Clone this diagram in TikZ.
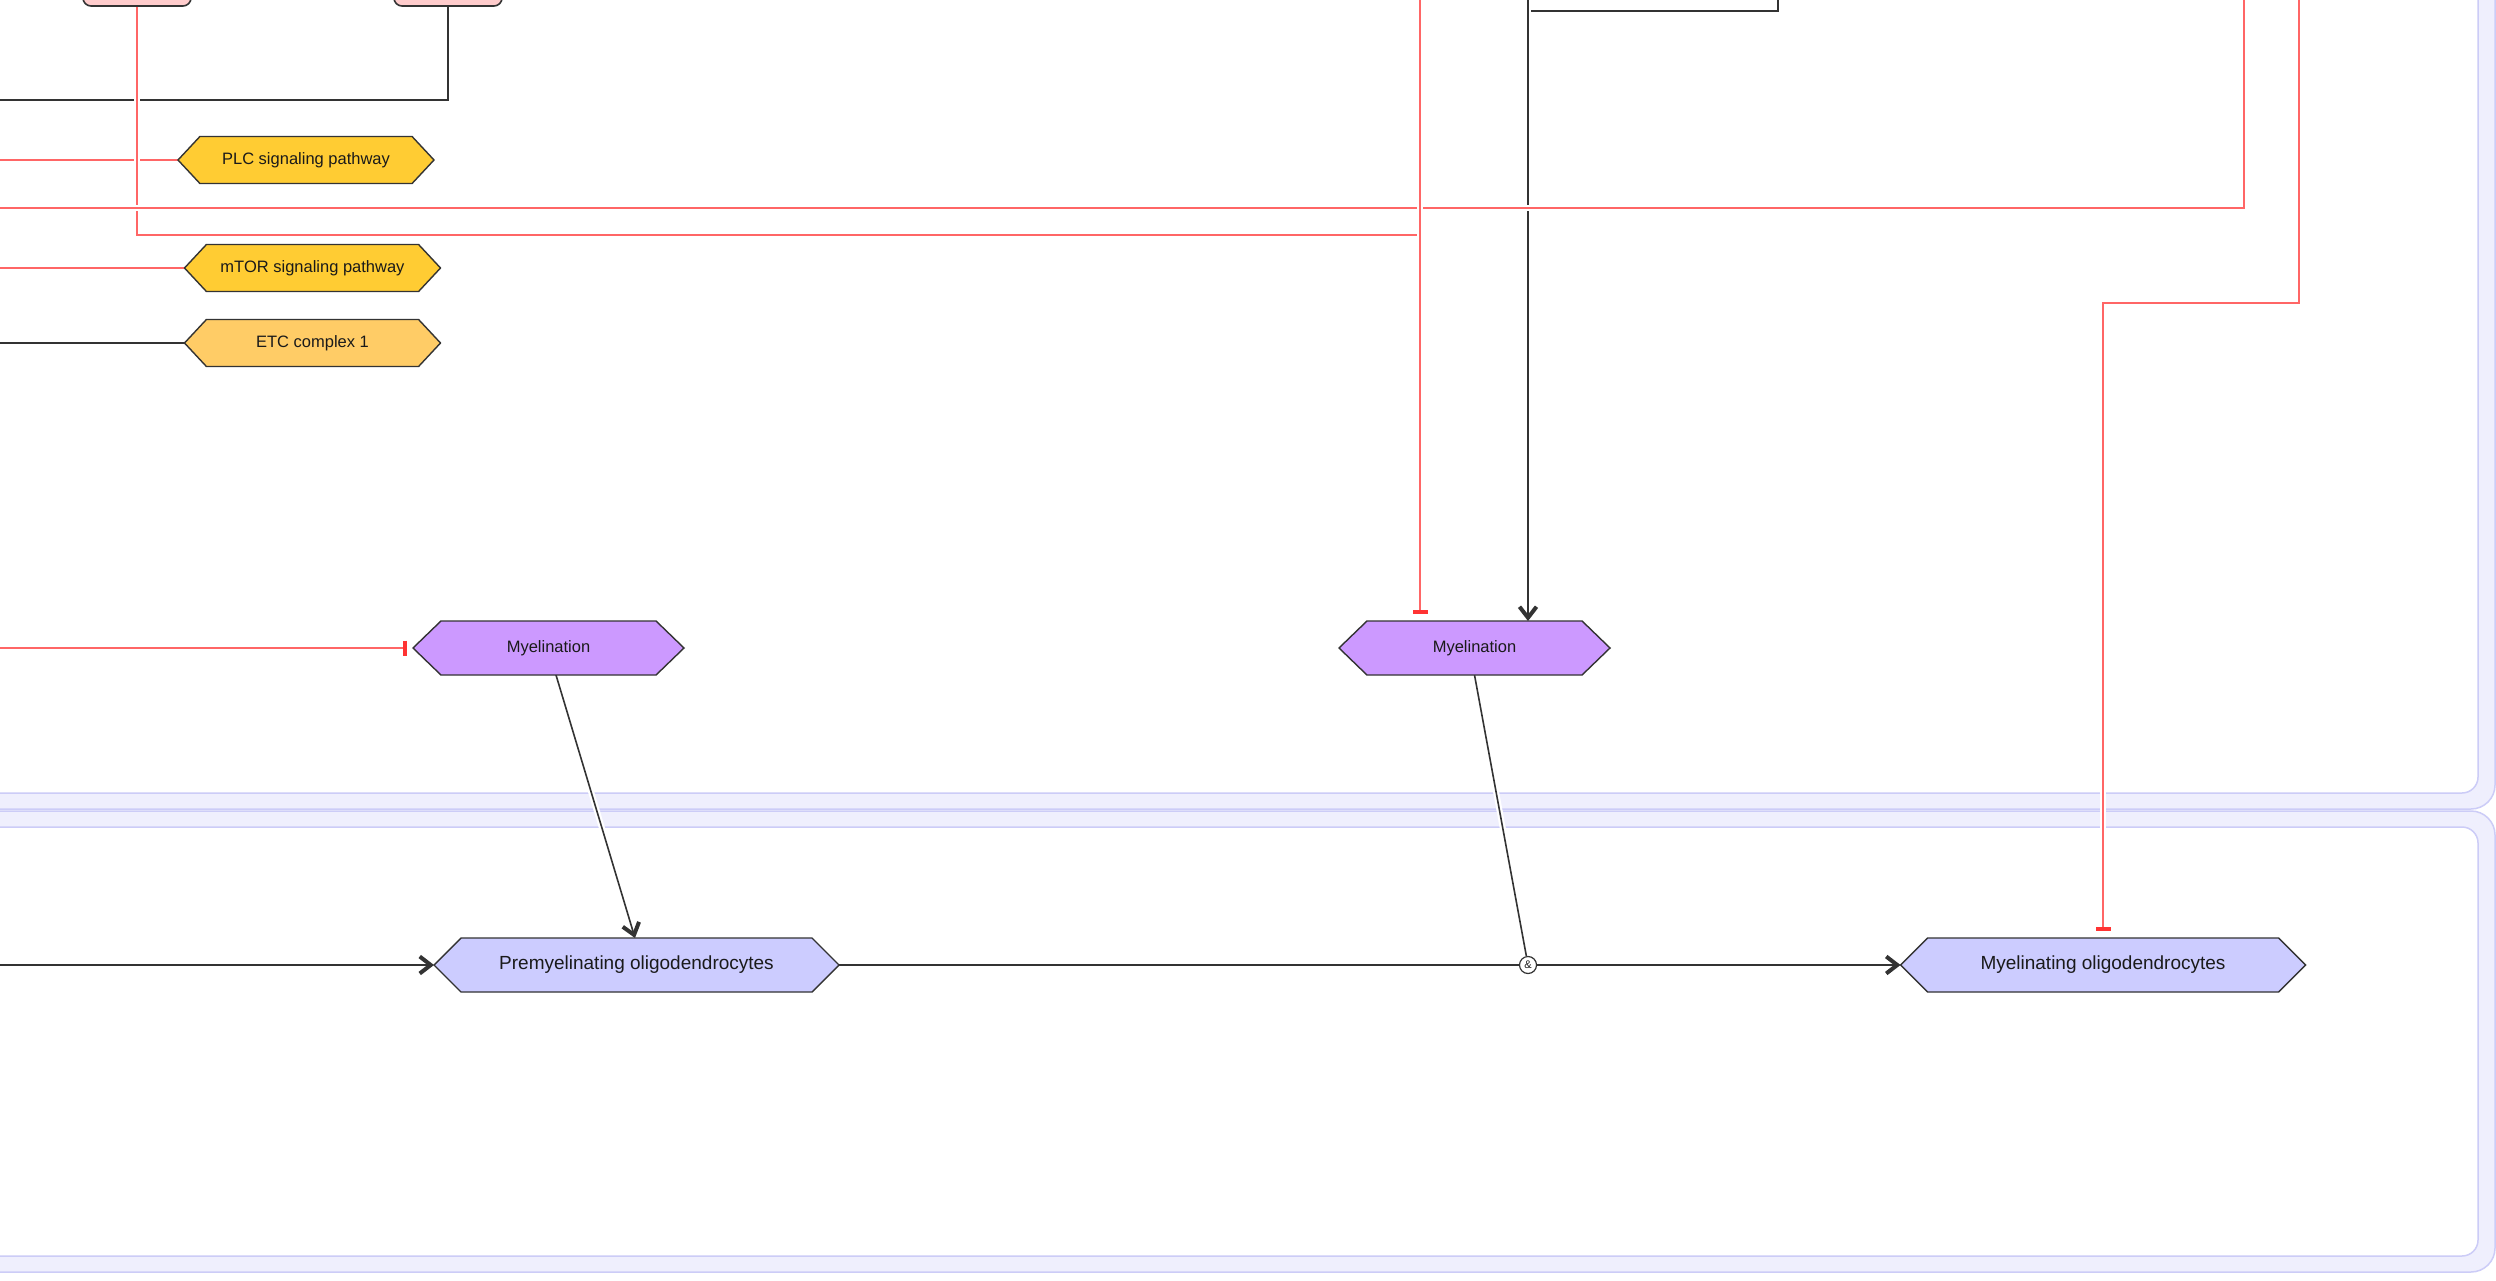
\documentclass[tikz,border=0pt]{standalone}
\usepackage{fontspec}
\setmainfont{Liberation Sans}
\usepackage{tikz}
\usetikzlibrary{shapes.symbols,arrows.meta}
\definecolor{FontColor}{HTML}{1A1A1A}
\definecolor{BorderGrey}{HTML}{333333}
\definecolor{PinkNC}{HTML}{FFCCCC}
\definecolor{GoldNC}{HTML}{FFCC33}
\definecolor{LightGoldNC}{HTML}{FFCC66}
\definecolor{PurpleNC}{HTML}{CC99FF}
\definecolor{LavenderNC}{HTML}{CCCCFF}
\definecolor{WireRed}{HTML}{FF6666}
\definecolor{BarRed}{HTML}{FF3333}
\definecolor{BandFill}{HTML}{EFEFFD}
\definecolor{BandLine}{HTML}{CCCCF7}
\newcommand\nodeplc{PLC signaling pathway}
\newcommand\nodemtor{mTOR signaling pathway}
\newcommand\nodeetc{ETC complex 1}
\newcommand\nodemyel{Myelination}
\newcommand\nodepremy{Premyelinating oligodendrocytes}
\newcommand\nodemyelol{Myelinating oligodendrocytes}
\tikzstyle{hexnode} = [shape=signal, signal to=west and east, draw=BorderGrey, line width=1.4pt, text=FontColor, inner sep=0pt, outer sep=0pt]
\tikzstyle{pn} = [hexnode, fill=GoldNC, minimum width=256pt, minimum height=47pt, signal pointer angle=94, font=\fontsize{16.5}{18}\selectfont]
\tikzstyle{en} = [pn, fill=LightGoldNC]
\tikzstyle{mn} = [hexnode, fill=PurpleNC, minimum width=271pt, minimum height=54pt, signal pointer angle=88, font=\fontsize{16.5}{18}\selectfont]
\tikzstyle{cn} = [hexnode, fill=LavenderNC, minimum width=405pt, minimum height=54pt, signal pointer angle=90, font=\fontsize{19}{22}\selectfont]
\tikzstyle{gpn} = [rectangle, rounded corners=8pt, draw=BorderGrey, fill=PinkNC, line width=1.6pt, minimum width=108pt, minimum height=60pt]
\tikzstyle{andn} = [circle, draw=BorderGrey, fill=white, line width=1.2pt, minimum size=17pt, inner sep=0pt, text=FontColor, font=\fontsize{11}{11}\selectfont]
\tikzstyle{halo} = [preaction={draw=white, line width=6pt, -}]
\tikzstyle{bw} = [halo, draw=BorderGrey, line width=1.6pt]
\tikzstyle{rw} = [halo, draw=WireRed, line width=2pt]
\tikzstyle{conv} = [bw, -{Straight Barb[length=11pt, width=17pt, line width=4pt]}]
\tikzstyle{inhib} = [rw, -{Bar[width=15pt, line width=4pt, color=BarRed]}, shorten >=7pt]
\tikzstyle{band} = [draw=BandLine, fill=BandFill, line width=1.5pt, rounded corners=24pt]
\tikzstyle{bandin} = [draw=BandLine, fill=white, line width=1.5pt, rounded corners=16pt]
\pgfdeclarelayer{back}
\pgfdeclarelayer{wires}
\pgfsetlayers{back,wires,main}

\begin{document}
\begin{tikzpicture}[x=1pt, y=-1pt]
\useasboundingbox (0,0) rectangle (2496,1281);
\clip (0,0) rectangle (2496,1281);
\begin{pgfonlayer}{back}
\fill[white] (0,0) rectangle (2496,1281);
\draw[band] (-60,-100) rectangle (2495,809);
\draw[bandin] (-44,-84) rectangle (2478,793);
\draw[band] (-60,811) rectangle (2495,1272);
\draw[bandin] (-44,827) rectangle (2478,1256);
\end{pgfonlayer}
\node[gpn] (gp1) at (137,-24) {};
\node[gpn] (gp2) at (448,-24) {};
\node[pn] (plc) at (306,160) {\nodeplc};
\node[pn] (mtor) at (312.5,268) {\nodemtor};
\node[en] (etc) at (312.5,343) {\nodeetc};
\node[mn] (myel1) at (548.5,648) {\nodemyel};
\node[mn] (myel2) at (1474.5,648) {\nodemyel};
\node[cn] (premy) at (636.5,965) {\nodepremy};
\node[cn] (myelol) at (2103,965) {\nodemyelol};
\node[andn] (and) at (1528,965) {\&};
\coordinate (gp2out) at (-5,100);
\coordinate (plcin) at (-5,160);
\coordinate (mtorin) at (-5,268);
\coordinate (etcin) at (-5,343);
\coordinate (gp1turn) at (1420,235);
\coordinate (btopa) at (1778,-5);
\coordinate (bjoin) at (1528,11);
\coordinate (btopb) at (1528,-5);
\coordinate (rtopa) at (2244,-5);
\coordinate (rout) at (-5,208);
\coordinate (rtopb) at (1420,-5);
\coordinate (rtopc) at (2299,-5);
\coordinate (rturn) at (2103,303);
\coordinate (myelin) at (-5,648);
\coordinate (premyin) at (-5,965);
\begin{pgfonlayer}{wires}
\draw [bw] (gp2.south) |- (gp2out);
\draw [rw] (plcin) -- (plc.west);
\draw [rw] (gp1.south) |- (gp1turn);
\draw [bw] (btopa) |- (bjoin);
\draw [conv] (btopb) -- (btopb |- myel2.north);
\draw [rw] (rtopa) |- (rout);
\draw [inhib] (rtopb) -- (rtopb |- myel2.north);
\draw [inhib] (rtopc) |- (rturn) -- (myelol.north);
\draw [rw] (mtorin) -- (mtor.west);
\draw [bw] (etcin) -- (etc.west);
\draw [inhib, shorten >=6pt] (myelin) -- (myel1.west);
\draw [conv] ([xshift=7.5pt]myel1.south) -- ([xshift=-1.5pt]premy.north);
\draw [conv] (premyin) -- (premy.west);
\draw [bw] (premy.east) -- (and);
\draw [bw] (myel2.south) -- (and);
\draw [conv] (and) -- (myelol.west);
\end{pgfonlayer}
\end{tikzpicture}
\end{document}
